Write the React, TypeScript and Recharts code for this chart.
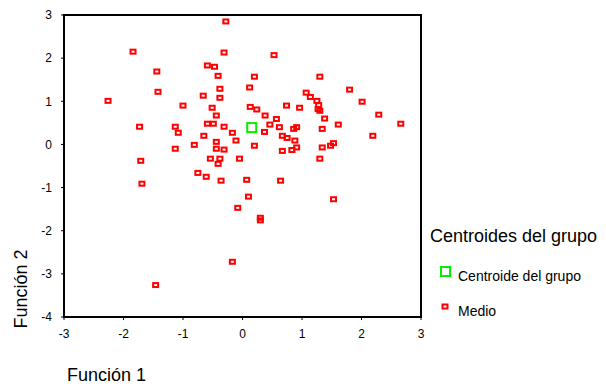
import { ScatterChart, Scatter, XAxis, YAxis, ReferenceArea, Legend } from "recharts";

// discriminant scores: Función 1 (x) / Función 2 (y)
const medioX = [
  -0.28, -1.84, -0.31, 0.53, -1.44, -0.59, -0.47, -0.41, 0.2, 1.3,
  -1.42, -0.38, 0.12, 1.8, -2.26, -0.66, -0.38, 1.07, 1.14, 1.25,
  2.01, 1.28, -1.0, -0.51, 0.13, 0.24, 0.74, 0.96, 1.27, 1.3,
  -0.44, 0.38, 2.29, 1.38, 0.57, -1.73, -1.13, -0.59, -0.49, -0.31,
  2.66, 1.61, 0.46, 0.62, 0.91, 0.86, 1.34, -1.08, -0.17, 0.37,
  -0.65, 2.19, 0.67, 0.75, -0.44, -0.11, 0.88, -0.81, 0.2, 1.48,
  1.53, -1.13, -0.44, -0.31, 0.91, 1.34, 0.83, 0.67, -1.71, -0.54,
  -0.38, -0.05, 1.3, -0.41, -1.69, -0.75, -0.61, -0.36, 0.07, 0.64,
  0.1, 1.53, -0.08, 0.3, 0.3, -0.17, -1.46,
];
const medioY = [
  2.85, 2.15, 2.13, 2.07, 1.69, 1.83, 1.8, 1.59, 1.57, 1.57,
  1.22, 1.29, 1.32, 1.27, 1.01, 1.13, 1.08, 1.2, 1.1, 1.01,
  0.99, 0.91, 0.9, 0.85, 0.87, 0.81, 0.9, 0.85, 0.82, 0.78,
  0.67, 0.67, 0.69, 0.6, 0.59, 0.41, 0.41, 0.48, 0.48, 0.41,
  0.48, 0.46, 0.46, 0.4, 0.4, 0.36, 0.36, 0.27, 0.27, 0.29,
  0.2, 0.2, 0.2, 0.15, 0.06, 0.09, 0.09, -0.01, -0.03, -0.03,
  0.03, -0.1, -0.1, -0.12, -0.07, -0.07, -0.13, -0.15, -0.38, -0.33,
  -0.33, -0.33, -0.33, -0.45, -0.91, -0.66, -0.75, -0.84, -0.82, -0.84,
  -1.21, -1.27, -1.47, -1.7, -1.76, -2.72, -3.26,
];
const centroideX = [0.155];
const centroideY = [0.39];

const xTicks = [-3, -2, -1, 0, 1, 2, 3];
const yTicks = [-4, -3, -2, -1, 0, 1, 2, 3];

const medio = medioX.map((x, i) => ({ x, y: medioY[i] }));
const centroide = centroideX.map((x, i) => ({ x, y: centroideY[i] }));

const FONT = "'Liberation Sans', Arial, sans-serif";
const RED = "#ff0000";
const GREEN = "#00f000";

const MedioShape = (p: any) => (
  <rect x={p.cx - 2.5} y={p.cy - 2} width={5} height={4} fill="none" stroke={RED} strokeWidth={2} />
);
const CentroideShape = (p: any) => (
  <rect x={p.cx - 4.5} y={p.cy - 4.5} width={9} height={9} fill="none" stroke={GREEN} strokeWidth={2} />
);

function GroupLegend() {
  return (
    <svg width={186} height={110} style={{ fontFamily: FONT }}>
      <text x={10} y={22} fontSize={18} fill="#000">Centroides del grupo</text>
      <rect x={21} y={47} width={9} height={9} fill="none" stroke={GREEN} strokeWidth={2} />
      <text x={38} y={61} fontSize={14} fill="#000">Centroide del grupo</text>
      <rect x={22.5} y={84.5} width={5} height={4} fill="none" stroke={RED} strokeWidth={2} />
      <text x={38} y={96} fontSize={14} fill="#000">Medio</text>
    </svg>
  );
}

export default function App() {
  const tick = { fontSize: 12, fill: "#000", fontFamily: FONT };
  return (
    <div style={{ position: "absolute", left: 0, top: 0, width: 606, height: 388, background: "#fff" }}>
      <ScatterChart width={606} height={388} margin={{ top: 15, right: 185, bottom: 31, left: 0 }}>
        <XAxis
          type="number"
          dataKey="x"
          domain={[-3, 3]}
          ticks={xTicks}
          axisLine={false}
          tickLine={{ stroke: "#000" }}
          tickSize={3}
          tickMargin={9}
          height={40}
          tick={tick}
          label={{
            content: (props: any) => (
              <text x={props.viewBox.x + 3} y={props.viewBox.y + 64} fontSize={18} fontFamily={FONT} fill="#000">
                Función 1
              </text>
            ),
          }}
        />
        <YAxis
          type="number"
          dataKey="y"
          domain={[-4, 3]}
          ticks={yTicks}
          axisLine={false}
          tickLine={{ stroke: "#000" }}
          tickSize={3}
          tickMargin={9}
          width={64}
          tick={tick}
          label={{
            content: (props: any) => {
              const cy = props.viewBox.y + props.viewBox.height - 28;
              return (
                <text
                  x={27}
                  y={cy}
                  transform={`rotate(-90 27 ${cy})`}
                  textAnchor="middle"
                  fontSize={18}
                  fontFamily={FONT}
                  fill="#000"
                >
                  Función 2
                </text>
              );
            },
          }}
        />
        <ReferenceArea x1={-3} x2={3} y1={-4} y2={3} fill="none" stroke="#000" strokeWidth={2} />
        <Scatter name="Medio" data={medio} shape={MedioShape} isAnimationActive={false} />
        <Scatter name="Centroide del grupo" data={centroide} shape={CentroideShape} isAnimationActive={false} />
        <Legend
          layout="vertical"
          align="center"
          verticalAlign="middle"
          content={() => <GroupLegend />}
          wrapperStyle={{ left: 420, top: 220, width: 186, height: 110 }}
        />
      </ScatterChart>
    </div>
  );
}
